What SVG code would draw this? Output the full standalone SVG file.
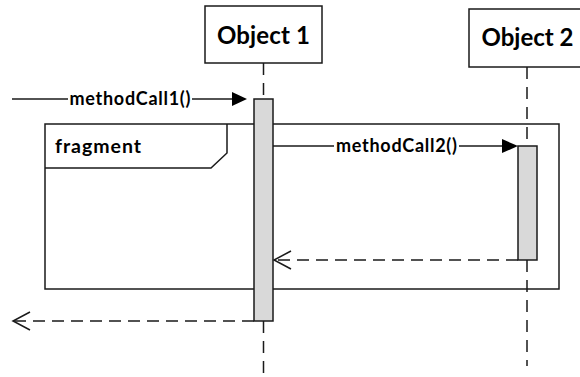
<svg xmlns="http://www.w3.org/2000/svg" width="580" height="377" viewBox="0 0 580 377">
<defs>
<style>
.box{fill:#fff;stroke:#1a1a1a;stroke-width:1.5}
.act{fill:#d9d9d9;stroke:#1a1a1a;stroke-width:1.5}
.life{stroke:#1a1a1a;stroke-width:1.5;stroke-dasharray:12 8;fill:none}
.msg{stroke:#1a1a1a;stroke-width:1.5;fill:none}
.ret{stroke:#1a1a1a;stroke-width:1.5;fill:none;stroke-dasharray:12 7}
.head{fill:#000;stroke:none}
.open{fill:none;stroke:#1a1a1a;stroke-width:1.5}
.t{font-family:Lato,"Liberation Sans",sans-serif;font-weight:bold;fill:#000}
.title{font-size:24px}
.lbl{font-size:18px}
.frag{font-size:19.5px}
</style>
</defs>
<g id="fragment">
<rect class="box" x="45" y="124" width="514" height="165"/>
<path class="msg" d="M227,124 V153 L211,168 H45"/>
<text class="t frag" x="55" y="153" textLength="86" lengthAdjust="spacing">fragment</text>
</g>
<g id="object1">
<rect class="box" x="205" y="6" width="117" height="57"/>
<text class="t title" x="263.5" y="44" text-anchor="middle" textLength="93" lengthAdjust="spacing">Object 1</text>
<line class="life" x1="263.5" y1="63" x2="263.5" y2="99"/>
<line class="life" x1="263.5" y1="321" x2="263.5" y2="373"/>
</g>
<g id="object2">
<rect class="box" x="469" y="9" width="117" height="58"/>
<text class="t title" x="527.5" y="46" text-anchor="middle" textLength="92" lengthAdjust="spacing">Object 2</text>
<line class="life" x1="527" y1="67" x2="527" y2="146"/>
<line class="life" x1="527" y1="260" x2="527" y2="366"/>
</g>
<g id="activation1">
<rect class="act" x="254" y="99" width="19" height="222"/>
</g>
<g id="activation2">
<rect class="act" x="518" y="146" width="19" height="114"/>
</g>
<g id="connectors">
<line class="msg" x1="12" y1="99" x2="233" y2="99"/>
<path class="head" d="M247,99 L232,92 L232,106 Z"/>
<rect x="68" y="90" width="124" height="18" fill="#fff"/>
<text class="t lbl" x="130" y="105" text-anchor="middle" textLength="121" lengthAdjust="spacing">methodCall1()</text>
<line class="msg" x1="273" y1="146" x2="503" y2="146"/>
<path class="head" d="M518,146 L502,139 L502,153 Z"/>
<rect x="334" y="137" width="125" height="18" fill="#fff"/>
<text class="t lbl" x="396.5" y="152" text-anchor="middle" textLength="121" lengthAdjust="spacing">methodCall2()</text>
<line class="ret" x1="518" y1="260" x2="274" y2="260"/>
<path class="open" d="M291,251 L274,260 L291,269"/>
<line class="ret" x1="254" y1="321" x2="13" y2="321"/>
<path class="open" d="M30,312 L13,321 L30,330"/>
</g>
</svg>
